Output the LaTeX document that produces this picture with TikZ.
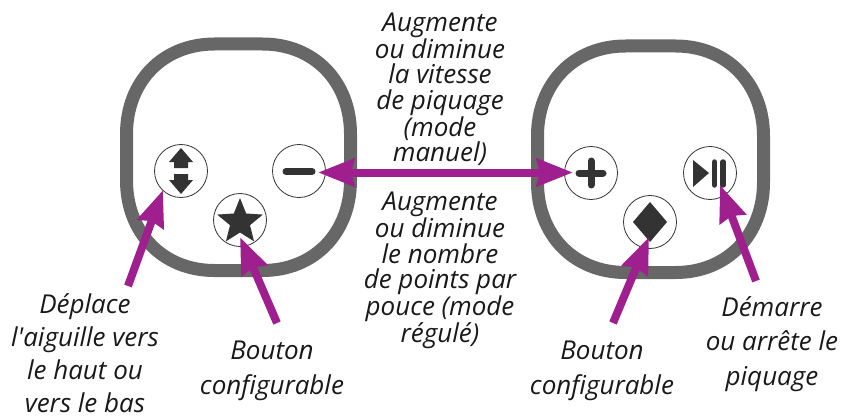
\documentclass[tikz,border=0pt]{standalone}
\usepackage{fontspec}
\setmainfont{Open Sans}[Ligatures=TeXOff]
\usetikzlibrary{arrows.meta}
\definecolor{ringc}{HTML}{666766}
\definecolor{iconc}{HTML}{333333}
\definecolor{arrowc}{HTML}{A01F8E}
\tikzset{
  ringline/.style={draw=ringc,line width=13pt},
  btn/.style={circle,draw=iconc,line width=0.8pt,fill=white,minimum size=53pt,inner sep=0pt},
  icon/.style={fill=iconc,draw=none},
  iconbar/.style={draw=iconc,line width=7pt,line cap=round},
  purple/.style={draw=arrowc,line width=8pt,-{Stealth[length=36pt,width=27pt,inset=3pt]},shorten >=0pt},
  purpletwo/.style={draw=arrowc,line width=8pt,{Stealth[length=36pt,width=27pt,inset=3pt]}-{Stealth[length=36pt,width=27pt,inset=3pt]}},
  lab/.style={font=\fontsize{26}{25.5}\selectfont\itshape,align=center,inner sep=0pt,text=black!90},
  lablow/.style={font=\fontsize{26}{34.7}\selectfont\itshape,align=center,inner sep=0pt,text=black!90},
  lablowtight/.style={font=\fontsize{26}{33.2}\selectfont\itshape,align=center,inner sep=0pt,text=black!90}
}
\newcommand{\ringpath}[4]{% left top right bottom (centre line)
  \draw[ringline] (#1+88,#2) -- (#3-88,#2)
    .. controls (#3-36,#2) and (#3,#2+38) .. (#3,#2+90)
    -- (#3,#4-90)
    .. controls (#3,#4-38) and (#3-36,#4) .. (#3-88,#4)
    -- (#1+88,#4)
    .. controls (#1+36,#4) and (#1,#4-38) .. (#1,#4-90)
    -- (#1,#2+90)
    .. controls (#1,#2+38) and (#1+36,#2) .. (#1+88,#2) -- cycle;}
\begin{document}
\begin{tikzpicture}[x=1pt,y=-1pt]
\useasboundingbox (0,0) rectangle (844,420);
\ringpath{126.5}{44}{350.5}{270.5}
\ringpath{537.5}{46}{763.5}{272.5}
\node[btn] (updown) at (181,171) {};
\node[btn] (minus) at (299,171) {};
\node[btn] (star) at (240,220) {};
\node[btn] (plus) at (591,173) {};
\node[btn] (play) at (710,173) {};
\node[btn] (diam) at (650,222) {};
% icons
\fill[icon,shift={(181,171)}] (0,-23) -- (12,-9) -- (7,-9) -- (7,-3) -- (-7,-3) -- (-7,-9) -- (-12,-9) -- cycle;
\fill[icon,shift={(181,171)}] (0,23) -- (12,9) -- (7,9) -- (7,3) -- (-7,3) -- (-7,9) -- (-12,9) -- cycle;
\draw[iconbar] (286,171.5) -- (312,171.5);
\draw[iconbar] (579,173) -- (603,173) (591,161) -- (591,185);
\fill[icon,shift={(710,173)}] (-17,-13) -- (-1,0) -- (-17,14) -- cycle;
\draw[iconbar,line width=5.5pt] (714.5,162) -- (714.5,185) (723,162) -- (723,185);
\fill[icon,shift={(650,222)}] (-17,0) -- (0,-20) -- (17,0) -- (0,20) -- cycle;
\fill[icon,shift={(240,222)}] (270:24) -- (306:10.5) -- (342:24) -- (18:10.5) -- (54:24) -- (90:10.5) -- (126:24) -- (162:10.5) -- (198:24) -- (234:10.5) -- cycle;
% arrows
\coordinate (t1) at (128,286);
\coordinate (h1) at (163,190);
\coordinate (t2) at (277,323);
\coordinate (h2) at (240,237);
\coordinate (t3) at (613,323);
\coordinate (h3) at (649,237);
\coordinate (t4) at (756,281);
\coordinate (h4) at (720,185);
\coordinate (hm) at (318,172.5);
\coordinate (hp) at (573,172.5);
\draw[purpletwo] (hm) -- (hp);
\draw[purple] (t1) -- (h1);
\draw[purple] (t2) -- (h2);
\draw[purple] (t3) -- (h3);
\draw[purple] (t4) -- (h4);
% labels
\node[lab,anchor=north] (top) at (440,12.5) {Augmente\\ou diminue\\la vitesse\\de piquage\\(mode\\manuel)};
\node[lab,anchor=north] (bot) at (440,192) {Augmente\\ou diminue\\le nombre\\de points par\\pouce (mode\\régulé)};
\node[lablowtight,anchor=north] (dep) at (85,293) {Déplace\\l'aiguille vers\\le haut ou\\vers le bas};
\node[lablow,anchor=north] (b1) at (272,341) {Bouton\\configurable};
\node[lablow,anchor=north] (b2) at (602,341) {Bouton\\configurable};
\node[lablow,anchor=north] (dem) at (772,296) {Démarre\\ou arrête le\\piquage};
\end{tikzpicture}
\end{document}
